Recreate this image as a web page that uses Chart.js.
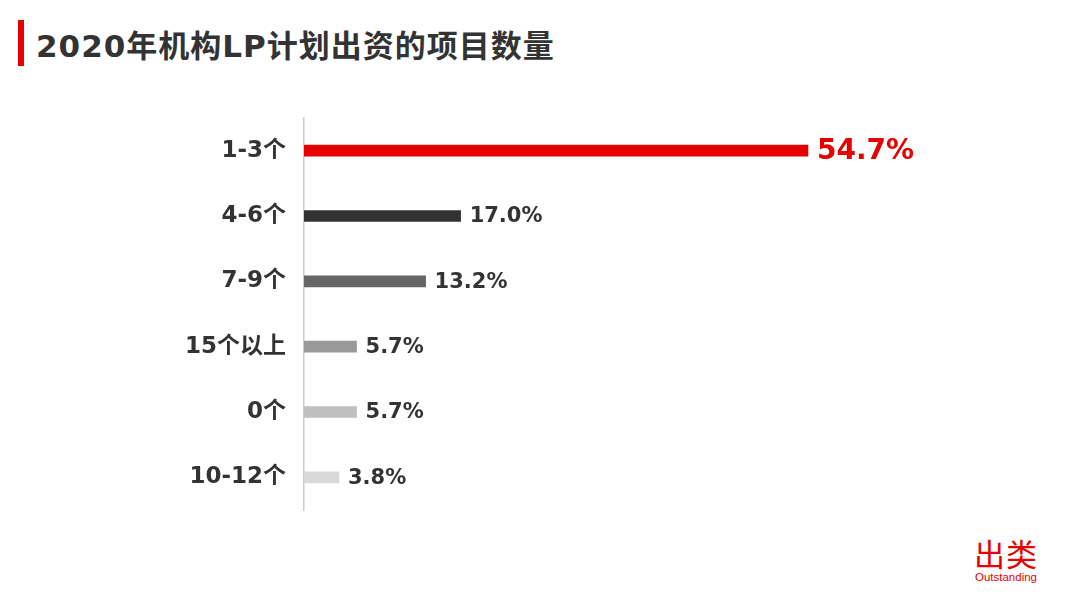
<!DOCTYPE html>
<html>
<head>
<meta charset="utf-8">
<script src="https://cdn.jsdelivr.net/npm/chart.js@4.4.0/dist/chart.umd.min.js"></script>
<style>
  body { margin: 0; background: #fff; width: 1080px; height: 608px; overflow: hidden; position: relative; font-family: "DejaVu Sans", "Noto Sans CJK SC", sans-serif; }
  .bar-mark { position: absolute; left: 18px; top: 20px; width: 6px; height: 46px; background: #e60000; }
  .title { position: absolute; left: 36px; top: 21px; font-size: 31px; font-weight: bold; color: #333; font-family: "DejaVu Sans", "Noto Sans CJK SC", sans-serif; letter-spacing: 1px; }
  .logo { position: absolute; left: 971px; top: 534px; color: #e60000; text-align: center; width: 70px; }
  .logo .cn { font-family: "Noto Sans CJK SC", sans-serif; font-size: 31px; line-height: 37px; letter-spacing: 1px; }
  .logo .en { font-family: "Liberation Sans", Arial, sans-serif; font-size: 11.5px; line-height: 12px; }
  #wrap { position: absolute; left: 0; top: 0; width: 1080px; height: 608px; }
</style>
</head>
<body>
<div class="bar-mark"></div>
<div class="title">2020年机构LP计划出资的项目数量</div>
<div class="logo"><div class="cn">出类</div><div class="en">Outstanding</div></div>
<div id="wrap"><canvas id="chart"></canvas></div>
<script>
const categories = ['1-3个', '4-6个', '7-9个', '15个以上', '0个', '10-12个'];
const shares = [54.7, 17.0, 13.2, 5.7, 5.7, 3.8];
const valueLabels = ['54.7%', '17.0%', '13.2%', '5.7%', '5.7%', '3.8%'];
const barColors = ['#e60000', '#333333', '#666666', '#999999', '#bfbfbf', '#d9d9d9'];

const valueLabelPlugin = {
    id: 'valueLabels',
    afterDatasetsDraw(chart) {
        const ctx = chart.ctx;
        const meta = chart.getDatasetMeta(0);
        ctx.save();
        ctx.textBaseline = 'middle';
        ctx.textAlign = 'left';
        meta.data.forEach((bar, i) => {
            if (i === 0) {
                ctx.fillStyle = '#e60000';
                ctx.font = 'bold 28px "DejaVu Sans", sans-serif';
            } else {
                ctx.fillStyle = '#333333';
                ctx.font = 'bold 21px "DejaVu Sans", sans-serif';
            }
            ctx.fillText(valueLabels[i], bar.x + 9, bar.y + 1);
        });
        ctx.restore();
    }
};

new Chart(document.getElementById('chart'), {
    type: 'bar',
    data: {
        labels: categories,
        datasets: [{
            data: shares,
            backgroundColor: barColors,
            barThickness: 11,
            borderWidth: 0
        }]
    },
    options: {
        indexAxis: 'y',
        responsive: true,
        maintainAspectRatio: false,
        animation: false,
        layout: { padding: { left: 0, top: 118, right: 85, bottom: 98 } },
        plugins: { legend: { display: false }, tooltip: { enabled: false } },
        scales: {
            x: { display: false, min: 0, max: 75 },
            y: {
                afterFit: (axis) => { axis.width = 304; },
                grid: { display: false, drawTicks: false },
                border: { color: '#cccccc', width: 1.5 },
                ticks: {
                    padding: 18,
                    color: '#333333',
                    font: { size: 23, weight: 'bold', family: '"DejaVu Sans", "Noto Sans CJK SC", sans-serif' }
                }
            }
        }
    },
    plugins: [valueLabelPlugin]
});
</script>
</body>
</html>
